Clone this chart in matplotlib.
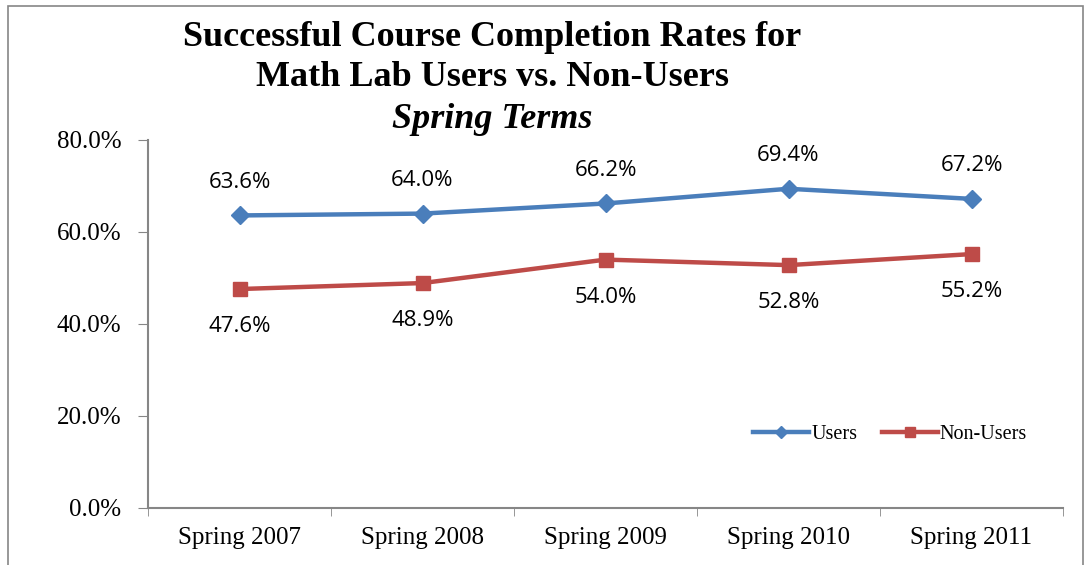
import matplotlib
matplotlib.use("Agg")
import matplotlib.pyplot as plt
from matplotlib.patches import Rectangle
from matplotlib.ticker import FixedLocator, PercentFormatter

terms = ["Spring 2007", "Spring 2008", "Spring 2009", "Spring 2010", "Spring 2011"]
users = [63.6, 64.0, 66.2, 69.4, 67.2]
non_users = [47.6, 48.9, 54.0, 52.8, 55.2]

BLUE, RED, GRAY = "#4A7EBB", "#BE4B48", "#868686"
SERIF = "Liberation Serif"
LABEL_FONT = "Open Sans"

fig = plt.figure(figsize=(10.85, 5.65), dpi=100)
ax = fig.add_axes([148 / 1085, 1 - 508 / 565, 915 / 1085, 368 / 565])

x = list(range(len(terms)))
ax.plot(x, users, color=BLUE, lw=3.2, marker="D", ms=9, label="Users")
ax.plot(x, non_users, color=RED, lw=3.2, marker="s", ms=10, label="Non-Users")

for xi, v in zip(x, users):
    ax.annotate(f"{v:.1f}%", (xi, v), xytext=(0, 24), textcoords="offset points",
                ha="center", va="center", fontsize=16, family=LABEL_FONT)
for xi, v in zip(x, non_users):
    ax.annotate(f"{v:.1f}%", (xi, v), xytext=(0, -27), textcoords="offset points",
                ha="center", va="center", fontsize=16, family=LABEL_FONT)

ax.set_xlim(-0.5, len(terms) - 0.5)
ax.set_ylim(0, 80)
ax.set_yticks([0, 20, 40, 60, 80])
ax.yaxis.set_major_formatter(PercentFormatter(decimals=1))
ax.set_xticks(x)
ax.set_xticklabels(terms)
ax.xaxis.set_minor_locator(FixedLocator([i - 0.5 for i in range(len(terms) + 1)]))
ax.tick_params(axis="x", which="major", length=0, pad=14)
ax.tick_params(axis="x", which="minor", length=6, color=GRAY, direction="out")
ax.tick_params(axis="y", length=7, color=GRAY, direction="out", pad=12)
for lbl in ax.get_xticklabels() + ax.get_yticklabels():
    lbl.set_family(SERIF)
    lbl.set_fontsize(18)
for s in ["top", "right"]:
    ax.spines[s].set_visible(False)
for s in ["left", "bottom"]:
    ax.spines[s].set_color(GRAY)
    ax.spines[s].set_linewidth(1.5)

ax.legend(loc="center", bbox_to_anchor=(0.811, 0.2), ncol=2, frameon=False,
          prop={"family": SERIF, "size": 14.5}, handlelength=2.8, handletextpad=0.1,
          columnspacing=1.2, markerscale=0.7)

fig.text(492 / 1085, 1 - 38 / 565, "Successful Course Completion Rates for",
         ha="center", va="center", family=SERIF, weight="bold", fontsize=26)
fig.text(492 / 1085, 1 - 78 / 565, "Math Lab Users vs. Non-Users",
         ha="center", va="center", family=SERIF, weight="bold", fontsize=26)
fig.text(492 / 1085, 1 - 120 / 565, "Spring Terms",
         ha="center", va="center", family=SERIF, weight="bold", style="italic", fontsize=26)

fig.patches.append(Rectangle((8 / 1085, -0.01), 1075 / 1085, 1.0, transform=fig.transFigure,
                             fill=False, edgecolor=GRAY, lw=1.2))

fig.savefig("out.png", dpi=100)
